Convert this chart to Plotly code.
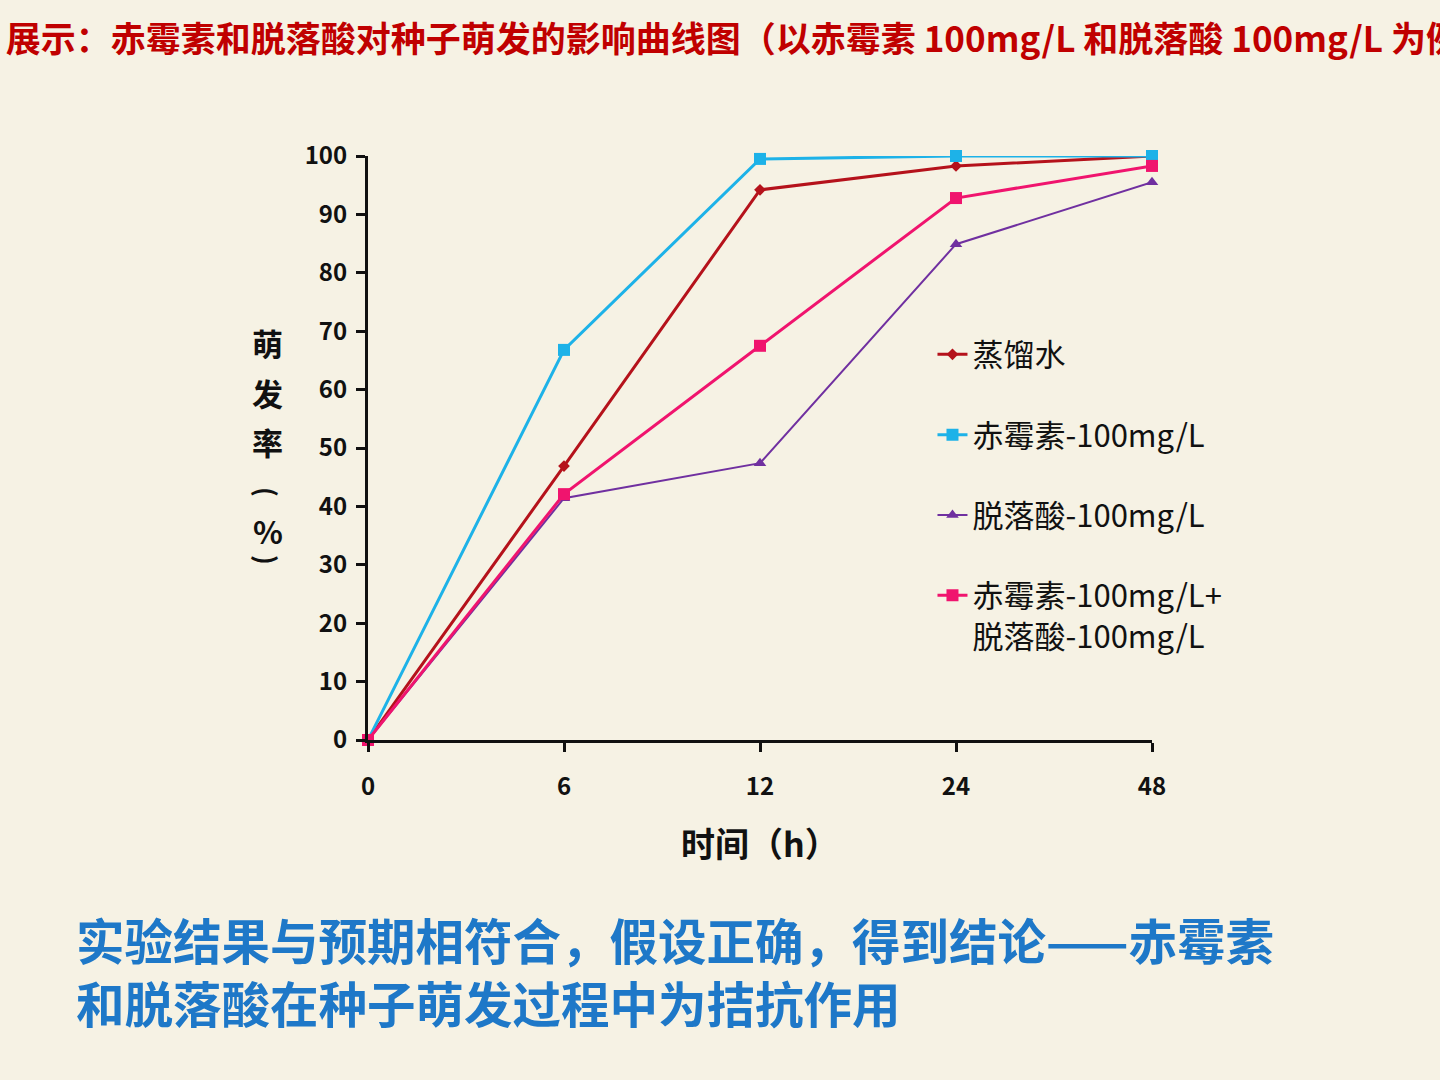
import plotly.graph_objects as go

time_labels = ["0", "6", "12", "24", "48"]
series_names = ["蒸馏水", "赤霉素-100mg/L", "脱落酸-100mg/L", "赤霉素-100mg/L+<br>脱落酸-100mg/L"]
water = [0, 46.9, 94.2, 98.3, 100]
ga = [0, 66.8, 99.5, 100, 100]
aba = [0, 41.4, 47.4, 84.9, 95.5]
ga_aba = [0, 42.1, 67.5, 92.8, 98.3]

ytitle_chars = ["萌", "发", "率", "(", "%", ")"]

colors = ["#b5121b", "#1db2e8", "#7030a0", "#f0146e"]
symbols = ["diamond", "square", "triangle-up", "square"]
sizes = [9, 12, 11, 12]
widths = [3, 3, 2, 3]

FONT = "Noto Sans CJK SC"
fig = go.Figure()
for i, (name, vals) in enumerate(zip(series_names, [water, ga, aba, ga_aba])):
    fig.add_trace(go.Scatter(
        x=time_labels, y=vals, name=name, mode="lines+markers",
        line=dict(color=colors[i], width=widths[i]),
        marker=dict(symbol=symbols[i], size=sizes[i], color=colors[i]),
        cliponaxis=False, legendgroup=str(i),
    ))

fig.update_layout(
    width=1440, height=1080,
    paper_bgcolor="#f6f2e4", plot_bgcolor="rgba(0,0,0,0)",
    margin=dict(l=368, r=288, t=156, b=340),
    font=dict(family=FONT, color="#111111"),
    title=dict(text="展示：赤霉素和脱落酸对种子萌发的影响曲线图（以赤霉素 100mg/L 和脱落酸 100mg/L 为例）",
               x=0.004, xanchor="left", y=0.963, yanchor="middle",
               font=dict(size=35, color="#c00000", family=FONT, weight="bold")),
    showlegend=True,
    legend=dict(x=0.72, y=0.706, xanchor="left", yanchor="top", valign="top",
                font=dict(size=31, family=FONT), tracegroupgap=37,
                bgcolor="rgba(0,0,0,0)", itemwidth=30),
    xaxis=dict(type="category", range=[0, 4], showline=True, linecolor="#111", linewidth=3,
               ticks="outside", ticklen=9, tickwidth=3, tickcolor="#111",
               showgrid=False, zeroline=False, ticklabelstandoff=14,
               tickfont=dict(size=24, family=FONT, weight="bold"),
               title=dict(text="时间（h）", font=dict(size=34, family=FONT, weight="bold"), standoff=33)),
    yaxis=dict(range=[0, 100], dtick=10, showline=True, linecolor="#111", linewidth=3,
               ticks="outside", ticklen=9, tickwidth=3, tickcolor="#111",
               showgrid=False, zeroline=False, ticklabelstandoff=4,
               tickfont=dict(size=24, family=FONT, weight="bold")),
)

ypix = [342, 392, 441, 492, 530, 560]
for ch, yp in zip(ytitle_chars, ypix):
    rot = 90 if ch in "()" else 0
    fig.add_annotation(text=ch, xref="paper", yref="paper",
                       x=-0.1276, y=(740 - yp) / 584, xanchor="center", yanchor="middle",
                       showarrow=False, textangle=rot,
                       font=dict(size=31 if rot == 0 else 26, family=FONT, weight="bold", color="#111"))

fig.add_annotation(text="实验结果与预期相符合，假设正确，得到结论——赤霉素<br>和脱落酸在种子萌发过程中为拮抗作用",
                   xref="paper", yref="paper", x=-0.375, y=(740 - 970) / 584, xanchor="left", yanchor="middle",
                   showarrow=False, align="left",
                   font=dict(size=48.5, family=FONT, weight="bold", color="#1e78c8"))

fig.write_html("out.html")
